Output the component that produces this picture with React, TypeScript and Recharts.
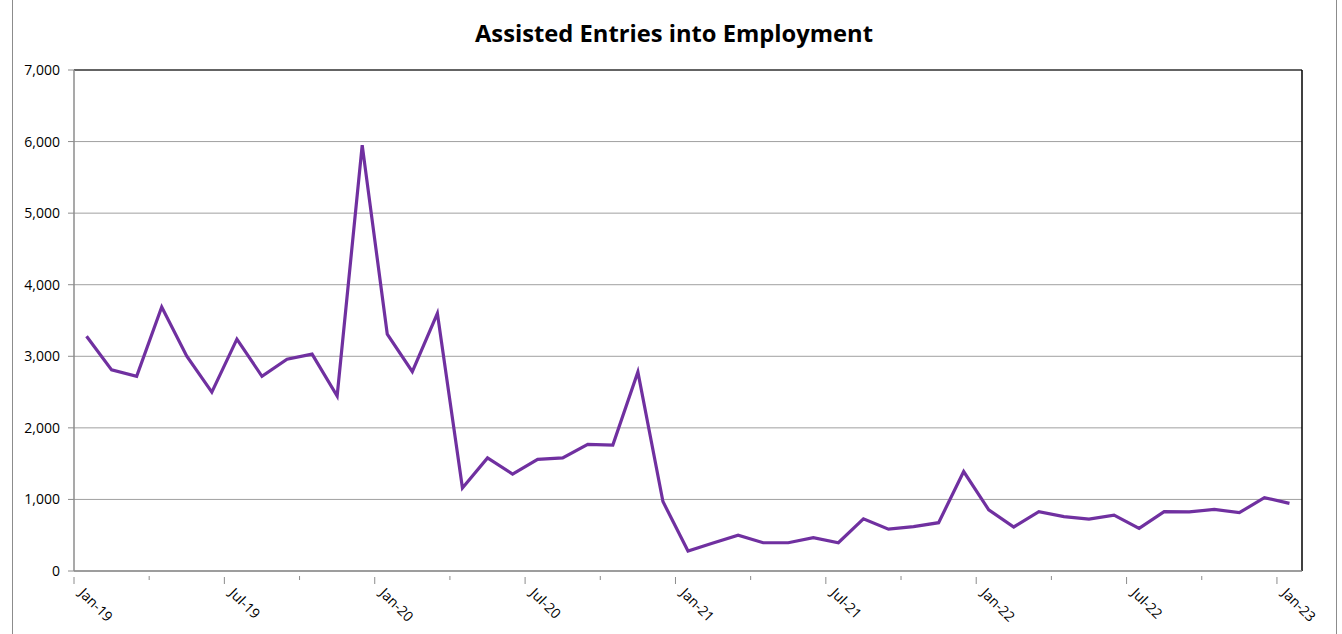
import { LineChart, Line, XAxis, YAxis, CartesianGrid, ReferenceLine } from 'recharts';

if (typeof document !== 'undefined') {
  document.body.style.margin = '0';
}

const months = [
  'Jan-19', 'Feb-19', 'Mar-19', 'Apr-19', 'May-19', 'Jun-19', 'Jul-19', 'Aug-19', 'Sep-19', 'Oct-19', 'Nov-19', 'Dec-19',
  'Jan-20', 'Feb-20', 'Mar-20', 'Apr-20', 'May-20', 'Jun-20', 'Jul-20', 'Aug-20', 'Sep-20', 'Oct-20', 'Nov-20', 'Dec-20',
  'Jan-21', 'Feb-21', 'Mar-21', 'Apr-21', 'May-21', 'Jun-21', 'Jul-21', 'Aug-21', 'Sep-21', 'Oct-21', 'Nov-21', 'Dec-21',
  'Jan-22', 'Feb-22', 'Mar-22', 'Apr-22', 'May-22', 'Jun-22', 'Jul-22', 'Aug-22', 'Sep-22', 'Oct-22', 'Nov-22', 'Dec-22',
  'Jan-23',
];

const entries = [
  3280, 2810, 2720, 3690, 3000, 2500, 3240, 2720, 2960, 3030, 2445, 5950,
  3310, 2785, 3600, 1160, 1580, 1355, 1560, 1580, 1770, 1760, 2780, 970,
  280, 390, 500, 395, 395, 465, 395, 730, 585, 620, 675, 1390,
  855, 615, 830, 760, 725, 780, 595, 830, 825, 860, 815, 1025,
  945,
];

const yTicks = [0, 1000, 2000, 3000, 4000, 5000, 6000, 7000];
// tick marks every quarter, labels every half year (tick index = month index)
const xTicks = [0, 3, 6, 9, 12, 15, 18, 21, 24, 27, 30, 33, 36, 39, 42, 45, 48];

const data = months.map((m, i) => ({ pos: i + 0.5, month: m, value: entries[i] }));

const FONT = '"Open Sans", "Noto Sans", sans-serif';
const AXIS_GRAY = '#8c8c8c';

function MonthTick(props: any) {
  const { x, y, payload } = props;
  const idx = payload.value as number;
  const major = idx % 6 === 0;
  return (
    <g>
      {major ? (
        <line x1={x} x2={x} y1={y - 2} y2={y + 5} stroke={AXIS_GRAY} strokeWidth={1} />
      ) : (
        <line x1={x} x2={x} y1={y - 3} y2={y + 1} stroke={AXIS_GRAY} strokeWidth={1} />
      )}
      {major && (
        <text
          x={0}
          y={0}
          transform={`translate(${x + 4}, ${y + 15}) rotate(45)`}
          textAnchor="start"
          fontSize={14}
          fontFamily={FONT}
          fill="#000"
        >
          {months[idx]}
        </text>
      )}
    </g>
  );
}

export default function App() {
  return (
    <div style={{ position: 'relative', width: 1342, height: 634, overflow: 'hidden', background: '#fff' }}>
      <div
        style={{
          position: 'absolute',
          left: 12,
          top: -2,
          width: 1323,
          height: 640,
          borderLeft: '1px solid #8c8c8c',
          borderRight: '1px solid #8c8c8c',
        }}
      />
      <svg style={{ position: 'absolute', left: 0, top: 0 }} width={1342} height={60}>
        <text
          x={674}
          y={42}
          textAnchor="middle"
          fontFamily={FONT}
          fontWeight="bold"
          fontSize={24}
          textLength={398}
          lengthAdjust="spacingAndGlyphs"
          fill="#000"
        >
          Assisted Entries into Employment
        </text>
      </svg>
      <div style={{ position: 'absolute', left: 0, top: 0 }}>
        <LineChart width={1342} height={634} data={data} margin={{ top: 70, right: 40, left: 0, bottom: 0 }}>
          <CartesianGrid vertical={false} stroke="#a0a0a0" strokeWidth={1} />
          <XAxis
            dataKey="pos"
            type="number"
            domain={[0, 49]}
            ticks={xTicks}
            interval={0}
            height={63}
            axisLine={{ stroke: AXIS_GRAY, strokeWidth: 1.5 }}
            tickLine={false}
            tick={<MonthTick />}
            allowDataOverflow
          />
          <YAxis
            domain={[0, 7000]}
            ticks={yTicks}
            width={74}
            interval={0}
            axisLine={{ stroke: AXIS_GRAY, strokeWidth: 1.5 }}
            tickLine={{ stroke: AXIS_GRAY }}
            tickSize={6}
            tickMargin={8}
            tick={{ fontSize: 14, fontFamily: FONT, fill: '#000' }}
            tickFormatter={(v: number) => v.toLocaleString('en-US')}
          />
          <ReferenceLine y={7000} stroke="#404040" strokeWidth={1.5} />
          <ReferenceLine x={49} stroke="#000" strokeWidth={1.5} />
          <Line
            type="linear"
            dataKey="value"
            stroke="#7030A0"
            strokeWidth={3.2}
            dot={false}
            isAnimationActive={false}
          />
        </LineChart>
      </div>
    </div>
  );
}
